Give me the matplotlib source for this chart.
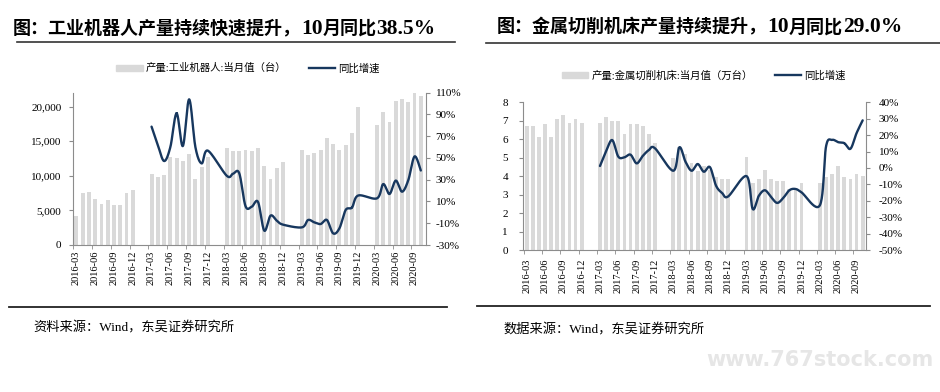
import numpy as np
import pandas as pd
import matplotlib
matplotlib.use('Agg')
import matplotlib.pyplot as plt
from matplotlib.patches import Patch
from matplotlib.lines import Line2D

plt.rcParams['font.family'] = ['Liberation Serif', 'Noto Sans CJK SC']
plt.rcParams['axes.unicode_minus'] = False

nan = np.nan

# categories: 2016-03 .. 2020-10 (Jan/Feb not published)
months = [str(p) for p in pd.period_range('2016-03', '2020-10', freq='M')]

robot_output = [4200, 7530, 7630, 6710, 5900, 6470, 5800, 5760, 7530, 7960,
                nan, nan, 10220, 9830, 10070, 12660, 12520, 12130, 13140, 9500, 11270, 12710,
                nan, nan, 14050, 13540, 13650, 13790, 13650, 14080, 11410, 9590, 11080, 11990,
                nan, nan, 13720, 12950, 13290, 13670, 15490, 14630, 13760, 14390, 16160, 20000,
                nan, nan, 17270, 19280, 17840, 20770, 21100, 20670, 22010, 21490]
robot_yoy = [nan] * 10 + \
            [nan, nan, 78.8, 62.0, 47.2, 60.0, 91.0, 61.0, 103.9, 60.0, 45.0, 56.7,
             nan, nan, 33.7, 35.5, 36.0, 5.8, 5.2, 9.6, -16.8, -3.0, -7.6, -11.3,
             nan, nan, -13.8, -7.0, -9.2, -10.7, -7.0, -19.3, -14.7, 2.2, 4.4, 15.5,
             nan, nan, 12.9, 26.0, 16.9, 29.2, 19.0, 29.6, 51.4, 38.5]

tool_output = [6.7, 6.7, 6.1, 6.8, 6.1, 7.1, 7.3, 6.9, 7.1, 6.9,
               nan, nan, 6.9, 7.2, 7.0, 7.0, 6.3, 6.8, 6.8, 6.7, 6.3, 5.8,
               nan, nan, 5.0, 5.6, 5.2, 4.7, 4.3, 4.55, 4.33, 3.95, 3.85, 3.85,
               nan, nan, 5.05, 3.63, 3.85, 4.35, 3.85, 3.75, 3.75, 3.3, 3.3, 3.63,
               nan, nan, 3.63, 3.93, 4.1, 4.55, 3.93, 3.85, 4.1, 4.0]
tool_yoy = [nan] * 10 + \
           [nan, nan, 1.2, 10.0, 17.0, 6.9, 6.5, 8.1, 2.8, 7.3, 10.9, 12.0,
            nan, nan, -1.7, 12.6, 3.8, -1.7, 2.4, -2.3, 0.5, -10.8, -15.3, -17.3,
            nan, nan, -5.0, -25.0, -17.0, -13.6, -17.7, -21.3, -18.3, -13.6, -12.8, -14.9,
            nan, nan, -22.7, 13.0, 17.1, 15.7, 15.1, 11.7, 21.2, 29.0]

BAR = '#d9d9d9'
LINE = '#17375e'
SPINE = '#8c8c8c'


def smooth(x, y, n=24):
    # Catmull-Rom spline through the points (like Excel's smoothed line)
    pts = np.column_stack([x, y])
    p = np.vstack([pts[0], pts, pts[-1]])
    t = np.linspace(0, 1, n)[:, None]
    out = []
    for i in range(1, len(p) - 2):
        p0, p1, p2, p3 = p[i-1], p[i], p[i+1], p[i+2]
        seg = 0.5 * (2*p1 + (-p0 + p2)*t + (2*p0 - 5*p1 + 4*p2 - p3)*t**2
                     + (-p0 + 3*p1 - 3*p2 + p3)*t**3)
        out.append(seg)
    out = np.vstack(out)
    return out[:, 0], out[:, 1]


def panel(fig, rect, bars, yoy, ylim, yticks, yfmt, y2lim, y2ticks, xlim, pad_l, pad_r, pad_x):
    ax = fig.add_axes(rect)
    x = np.arange(len(months))
    ax.bar(x, bars, width=0.62, color=BAR, zorder=1)
    ax.set_xlim(*xlim)
    ax.set_ylim(*ylim)
    ax.set_yticks(yticks)
    ax.set_yticklabels([yfmt(v) for v in yticks])
    ax.set_xticks(x[::3])
    ax.set_xticklabels(months[::3], rotation=90)
    ax.set_xticks(x[::3] - 0.5, minor=True)
    ax.tick_params(axis='x', which='major', length=0, pad=pad_x, labelsize=7.5)
    ax.tick_params(axis='x', which='minor', length=3, color=SPINE)
    ax.tick_params(axis='y', length=3, color=SPINE, pad=pad_l, labelsize=8)
    for s in ['top', 'right']:
        ax.spines[s].set_visible(False)
    for s in ['left', 'bottom']:
        ax.spines[s].set_color(SPINE)
        ax.spines[s].set_linewidth(0.8)

    ax2 = ax.twinx()
    yy = np.array(yoy, dtype=float)
    ok = ~np.isnan(yy)
    sx, sy = smooth(x[ok], yy[ok])
    ax2.plot(sx, sy, color=LINE, lw=1.7, solid_capstyle='round')
    ax2.set_ylim(*y2lim)
    ax2.set_yticks(y2ticks)
    ax2.set_yticklabels([f'{v:d}%' for v in y2ticks])
    ax2.tick_params(axis='y', length=3, color=SPINE, pad=pad_r, labelsize=8)
    for s in ['top', 'left', 'bottom']:
        ax2.spines[s].set_visible(False)
    ax2.spines['right'].set_color(SPINE)
    ax2.spines['right'].set_linewidth(0.8)
    return ax, ax2


def rich_text(fig, x, y, parts):
    # place text pieces one after another on a common baseline
    renderer = fig.canvas.get_renderer()
    for text, kw in parts:
        t = fig.text(x, y, text, va='baseline', ha='left', fontweight='bold', **kw)
        x += t.get_window_extent(renderer).width / fig.bbox.width


fig = plt.figure(figsize=(9.4, 3.92), dpi=100)

# left panel: industrial robots
panel(fig, [0.0773, 0.375, 0.3757, 0.3885], robot_output, robot_yoy,
      (0, 22000), [0, 5000, 10000, 15000, 20000], lambda v: f'{v:,d}',
      (-30, 110), list(range(-30, 111, 20)), (-0.6, 55.8), 5, 4, 4)

# right panel: metal cutting machine tools
panel(fig, [0.5567, 0.3622, 0.3646, 0.3768], tool_output, tool_yoy,
      (0, 8), list(range(0, 9)), lambda v: f'{v:d}',
      (-50, 40), list(range(-50, 41, 10)), (-0.55, 55.55), 8, 6, 6)

# legends
leg_kw = dict(loc='center', ncol=2, frameon=False, fontsize=7.5, handlelength=2.5,
              handleheight=0.5, columnspacing=2.2, handletextpad=0.3)
fig.legend([Patch(color=BAR), Line2D([], [], color=LINE, lw=1.7)],
           ['产量:工业机器人:当月值（台）', '同比增速'],
           bbox_to_anchor=(0.264, 0.826), **leg_kw)
fig.legend([Patch(color=BAR), Line2D([], [], color=LINE, lw=1.7)],
           ['产量:金属切削机床:当月值（万台）', '同比增速'],
           bbox_to_anchor=(0.749, 0.807), **leg_kw)

# titles and rules
cjk = dict(fontsize=13)
num = dict(fontsize=15.5)
rich_text(fig, 13 / 940, 1 - 33.5 / 392,
          [('图：工业机器人产量持续快速提升，', cjk), ('10', num), ('月同比', cjk), ('38.5%', num)])
rich_text(fig, 497 / 940, 1 - 32.5 / 392,
          [('图：金属切削机床产量持续提升，', cjk), ('10', num), ('月同比', cjk), ('29.0%', num)])
fig.add_artist(Line2D([17 / 940, 455 / 940], [1 - 42 / 392] * 2, color='#333333', lw=1.2))
fig.add_artist(Line2D([486 / 940, 1.0], [1 - 42.5 / 392] * 2, color='#333333', lw=1.2))
fig.add_artist(Line2D([9 / 940, 447 / 940], [1 - 306.5 / 392] * 2, color='#222222', lw=1.3))
fig.add_artist(Line2D([477 / 940, 930 / 940], [1 - 305.5 / 392] * 2, color='#222222', lw=1.3))

# sources
fig.text(33 / 940, 1 - 328 / 392, '资料来源：Wind，东吴证券研究所', fontsize=9.5, va='center', ha='left')
fig.text(503 / 940, 1 - 330 / 392, '数据来源：Wind，东吴证券研究所', fontsize=9.5, va='center', ha='left')

# watermark
fig.text(820 / 940, 1 - 360 / 392, 'www.767stock.com', fontsize=15, color='#e6e6e6',
         fontweight='bold', family='DejaVu Sans', va='center', ha='center')

fig.savefig('out.png', dpi=100)
